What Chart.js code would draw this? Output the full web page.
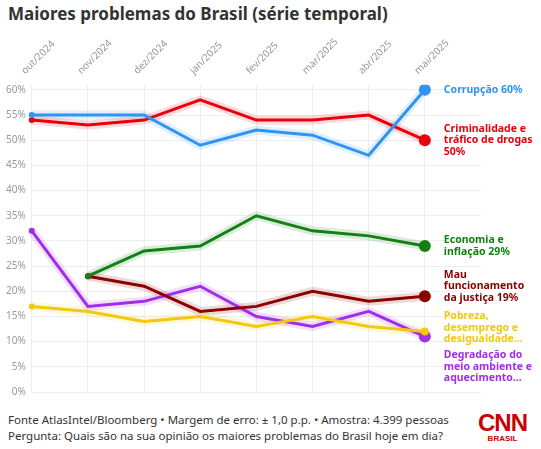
<!DOCTYPE html>
<html><head><meta charset="utf-8">
<script src="https://cdn.jsdelivr.net/npm/chart.js@4"></script>
<style>
body{margin:0;width:541px;height:449px;font-family:"Noto Sans",sans-serif;background:#fff;position:relative;overflow:hidden}
#title{position:absolute;left:8px;top:2px;font-size:17px;font-weight:bold;color:#333}
#wrap{position:absolute;left:0;top:28px;width:541px;height:376px}
#foot{position:absolute;left:8px;top:412px;font-size:11.5px;color:#333;line-height:16px}
#logo{position:absolute;right:14px;top:412px;color:#cc0000;text-align:center;font-family:"Liberation Sans";font-weight:bold}
</style></head><body>
<div id="title">Maiores problemas do Brasil (série temporal)</div>
<div id="wrap"><canvas id="c"></canvas></div>
<div id="foot">Fonte AtlasIntel/Bloomberg • Margem de erro: ± 1,0 p.p. • Amostra: 4.399 pessoas<br>Pergunta: Quais são na sua opinião os maiores problemas do Brasil hoje em dia?</div>
<div id="logo"><div style="font-size:24px;line-height:22px;letter-spacing:-1px">CNN</div><div style="font-size:8px">BRASIL</div></div>
<script>
var months = ["out/2024","nov/2024","dez/2024","jan/2025","fev/2025","mar/2025","abr/2025","mai/2025",""];
var corrupcao = [55,55,55,49,52,51,47,60];
var criminalidade = [54,53,54,58,54,54,55,50];
var economia = [null,23,28,29,35,32,31,29];
var justica = [null,23,21,16,17,20,18,19];
var pobreza = [17,16,14,15,13,15,13,12];
var ambiente = [32,17,18,21,15,13,16,11];
var yTicks = [0,5,10,15,20,25,30,35,40,45,50,55,60];

var seriesInfo = [
  {data:corrupcao, color:"#2f95f0", label:["Corrupção 60%"], dy:0, end:6},
  {data:criminalidade, color:"#e8000b", label:["Criminalidade e","tráfico de drogas","50%"], dy:0, end:6},
  {data:economia, color:"#138013", label:["Economia e","inflação 29%"], dy:0, end:6},
  {data:justica, color:"#8b0000", label:["Mau","funcionamento","da justiça 19%"], dy:-10, end:6},
  {data:pobreza, color:"#f2c811", label:["Pobreza,","desemprego e","desigualdade..."], dy:-4, end:4},
  {data:ambiente, color:"#a12ee8", label:["Degradação do","meio ambiente e","aquecimento..."], dy:30, end:6}
];

function pointRadii(arr, end){
  var first = arr.findIndex(v => v !== null);
  return arr.map((v,i) => i === arr.length-1 ? end : (i === first ? 3 : 0));
}

var datasets = seriesInfo.map(s => ({
  data: s.data, borderColor: s.color, backgroundColor: s.color,
  borderWidth: 3, tension: 0, fill: false,
  pointRadius: pointRadii(s.data, s.end), pointHoverRadius: 0, pointBorderWidth: 0
}));

var glowAndLabels = {
  id: 'glowAndLabels',
  beforeDatasetsDraw(chart){
    var ctx = chart.ctx;
    chart.data.datasets.forEach((ds,k) => {
      var meta = chart.getDatasetMeta(k);
      ctx.save();
      ctx.strokeStyle = ds.borderColor; ctx.globalAlpha = 0.15; ctx.lineWidth = 9; ctx.lineJoin = 'round';
      ctx.beginPath();
      var started = false;
      meta.data.forEach((p,i) => {
        if (ds.data[i] === null || ds.data[i] === undefined) return;
        if (!started) { ctx.moveTo(p.x,p.y); started = true; } else ctx.lineTo(p.x,p.y);
      });
      ctx.stroke();
      ctx.restore();
    });
  },
  afterDatasetsDraw(chart){
    var ctx = chart.ctx;
    ctx.save();
    ctx.font = "bold 10.5px 'Noto Sans'";
    ctx.textBaseline = 'middle';
    seriesInfo.forEach((s,k) => {
      var meta = chart.getDatasetMeta(k);
      var p = meta.data[7];
      ctx.fillStyle = s.color;
      var n = s.label.length;
      var y0 = p.y + s.dy - (n-1)*11.5/2;
      s.label.forEach((t,j) => ctx.fillText(t, p.x + 19, y0 + j*11.5));
    });
    ctx.restore();
  }
};

new Chart(document.getElementById("c"), {
  type: 'line',
  data: { labels: months, datasets: datasets },
  plugins: [glowAndLabels],
  options: {
    responsive: true, maintainAspectRatio: false, animation: false,
    layout: { padding: { left: 0, right: 60, top: 0, bottom: 4 } },
    plugins: { legend: { display: false }, tooltip: { enabled: false } },
    scales: {
      x: {
        position: 'top', offset: false,
        grid: { color: ctx => ctx.index === 8 ? 'rgba(0,0,0,0)' : '#eeeeee', drawTicks: false },
        border: { display: false },
        ticks: { color: '#999', font: { size: 10, family: 'Noto Sans' }, maxRotation: 45, minRotation: 45, padding: 8 }
      },
      y: {
        min: 0, max: 61,
        afterBuildTicks: axis => { axis.ticks = yTicks.map(v => ({ value: v })); },
        grid: { color: '#eeeeee', drawTicks: false },
        border: { display: false },
        ticks: { color: '#999', font: { size: 10, family: 'Noto Sans' }, padding: 6, callback: v => v + '%' }
      }
    }
  }
});
</script>
</body></html>
